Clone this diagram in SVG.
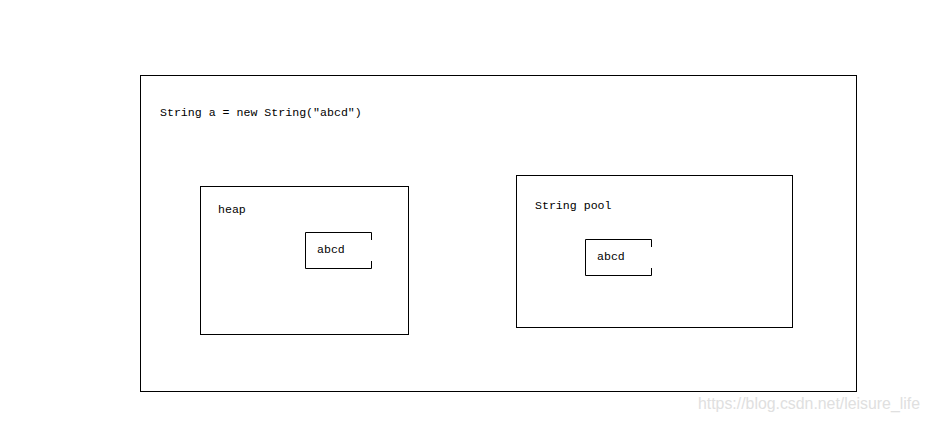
<svg xmlns="http://www.w3.org/2000/svg" width="930" height="421" viewBox="0 0 930 421">
<style>
.b{fill:none;stroke:#000;stroke-width:1}
.t{font-family:"Liberation Mono","DejaVu Sans Mono",monospace;font-size:11.6px;fill:#000}
.w{font-family:"Liberation Sans",Arial,sans-serif;font-size:16px;fill:#e0e0e0}
</style>
<rect width="930" height="421" fill="#fff"/>
<g id="outer">
<rect class="b" x="140.5" y="75.5" width="716" height="316"/>
<text class="t" x="160" y="116">String a = new String("abcd")</text>
</g>
<g id="heap">
<rect class="b" x="200.5" y="186.5" width="208" height="148"/>
<text class="t" x="218" y="213">heap</text>
</g>
<g id="heap-abcd">
<path class="b" d="M371.5,240 V232.5 H305.5 V268.5 H371.5 V261"/>
<text class="t" x="317" y="253">abcd</text>
</g>
<g id="pool">
<rect class="b" x="516.5" y="175.5" width="276" height="152"/>
<text class="t" x="535" y="209">String pool</text>
</g>
<g id="pool-abcd">
<path class="b" d="M651.5,247 V239.5 H585.5 V275.5 H651.5 V268"/>
<text class="t" x="597" y="260">abcd</text>
</g>
<g id="connectors"></g>
<text class="w" x="698" y="409" textLength="222" lengthAdjust="spacingAndGlyphs">https://blog.csdn.net/leisure_life</text>
</svg>
